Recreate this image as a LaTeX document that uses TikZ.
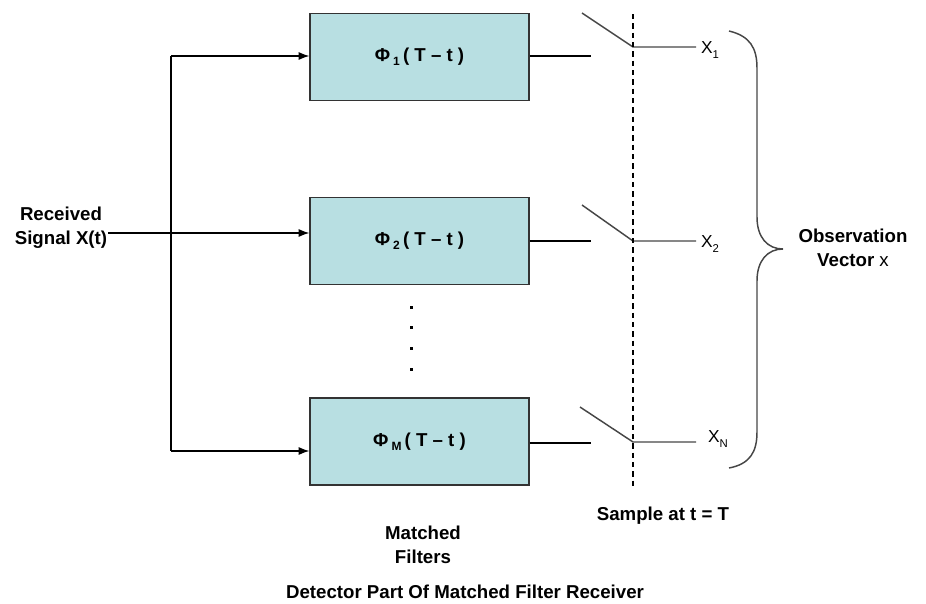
\documentclass[tikz,border=0pt]{standalone}
\usepackage{fontspec}
\setmainfont{Liberation Sans}
\usetikzlibrary{arrows.meta}
\definecolor{filterfill}{RGB}{184,223,226}
\definecolor{linegray}{RGB}{70,70,70}
\tikzset{
  filterbox/.style={draw=black!80, line width=1pt, fill=filterfill, minimum width=219*0.75pt, minimum height=87*0.75pt, inner sep=0pt, font=\bfseries\fontsize{14}{16}\selectfont},
  wire/.style={draw=black, line width=0.9pt},
  feed/.style={wire, -{Latex[length=8pt,width=6pt]}},
  sw/.style={draw=linegray, line width=1.1pt},
  lbl/.style={font=\bfseries\fontsize{14}{18}\selectfont, align=center, inner sep=0pt},
  outlbl/.style={font=\fontsize{13}{15}\selectfont, inner sep=0pt},
}
\newcommand{\sbs}[1]{\,\raisebox{-0.45ex}{\fontsize{9}{9}\selectfont #1}\,}
\newcommand{\filterlabel}[1]{Φ\sbs{#1}( T – t )}
\begin{document}
\begin{tikzpicture}[x=0.75pt,y=-0.75pt]
\useasboundingbox (0,0) rectangle (926,604);

% matched filters
\node[filterbox] (f1) at (419.5,57)  {\filterlabel{1}};
\node[filterbox] (f2) at (419.5,241) {\filterlabel{2}};
\node[filterbox] (f3) at (419.5,441.5) {\filterlabel{M}};

% input and distribution
\node[lbl] (rx) at (61,228) {Received\\Signal X(t)};
\coordinate (rxend) at (108,233);
\coordinate (bus1) at (171,56);
\coordinate (bus3) at (171,451);
\draw[feed] (rxend) -- (f2.west |- rxend);
\draw[wire] (bus1) -- (bus3);
\draw[feed] (bus1) -- (f1.west |- bus1);
\draw[feed] (bus3) -- (f3.west |- bus3);

% dots between filters
\foreach \y in {306,326,347,368}
  \fill (410,\y) rectangle ++(3,3);

% sampling switches
\coordinate (o1) at (591,56);   \coordinate (s1) at (582,13);  \coordinate (p1) at (633,47);  \coordinate (q1) at (696,47);
\coordinate (o2) at (591,241);  \coordinate (s2) at (582,205); \coordinate (p2) at (633,241); \coordinate (q2) at (696,241);
\coordinate (o3) at (591,443);  \coordinate (s3) at (580,407); \coordinate (p3) at (633,442); \coordinate (q3) at (696,442);
\draw[wire] (f1.east |- o1) -- (o1);
\draw[wire] (f2.east |- o2) -- (o2);
\draw[wire] (f3.east |- o3) -- (o3);
\draw[sw] (s1) -- (p1) -- (q1);
\draw[sw] (s2) -- (p2) -- (q2);
\draw[sw] (s3) -- (p3) -- (q3);

% sampling instant
\coordinate (dtop) at (633,14);
\coordinate (dbot) at (633,487);
\draw[black, line width=0.9pt, dash pattern=on 4pt off 3pt] (dtop) -- (dbot);

% outputs
\node[outlbl] (x1) at (710,50)  {X\raisebox{-0.5ex}{\fontsize{8.5}{8.5}\selectfont 1}};
\node[outlbl] (x2) at (710,244) {X\raisebox{-0.5ex}{\fontsize{8.5}{8.5}\selectfont 2}};
\node[outlbl] (x3) at (718,439) {X\raisebox{-0.5ex}{\fontsize{8.5}{8.5}\selectfont N}};

% brace grouping the outputs
\coordinate (btop) at (729,31);
\coordinate (btip) at (783,249);
\coordinate (bbot) at (729,468);
\draw[linegray, line width=1.1pt]
  (btop) .. controls (750,36) and (757,48) .. (757,68)
  -- (757,217) .. controls (757,238) and (768,249) .. (btip)
  .. controls (768,249) and (757,260) .. (757,281)
  -- (757,432) .. controls (757,452) and (750,464) .. (bbot);
\node[lbl] (obs) at (853,248) {Observation\\Vector {\mdseries x}};

% captions
\node[lbl] (smp) at (663,516) {Sample at t = T};
\node[lbl] (mf) at (423,545) {Matched\\Filters};
\node[lbl] (cap) at (465,592) {Detector Part Of Matched Filter Receiver};
\end{tikzpicture}
\end{document}
